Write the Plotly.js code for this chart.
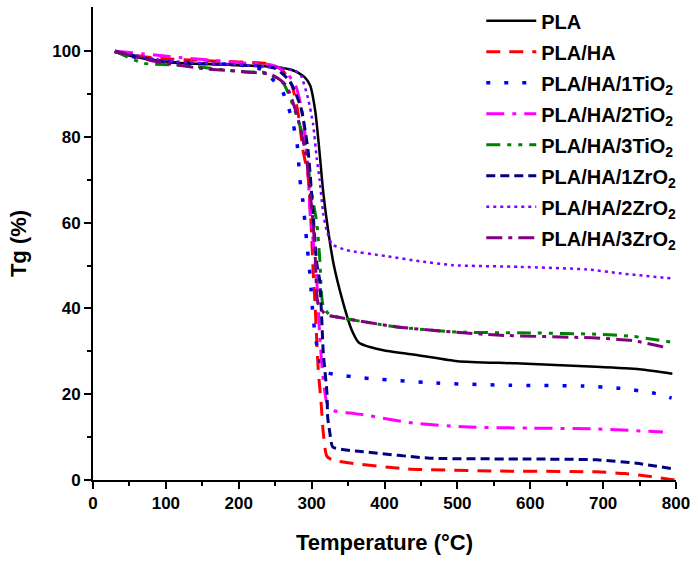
<!DOCTYPE html>
<html>
<head>
<meta charset="utf-8">
<script src="https://cdn.plot.ly/plotly-3.0.1.min.js"></script>
<style>
  html, body { margin: 0; padding: 0; background: #fff; }
  #chart { width: 698px; height: 565px; }
</style>
</head>
<body>
<div id="chart"></div>
<script>
// TGA mass-loss curves of PLA composites

const seriesNames = [
  'PLA', 'PLA/HA', 'PLA/HA/1TiO<sub>2</sub>', 'PLA/HA/2TiO<sub>2</sub>',
  'PLA/HA/3TiO<sub>2</sub>', 'PLA/HA/1ZrO<sub>2</sub>', 'PLA/HA/2ZrO<sub>2</sub>', 'PLA/HA/3ZrO<sub>2</sub>'
];

// Temperature (°C) and remaining mass (%) for each sample
const tPLA = [30, 60, 115, 190, 250, 275, 290, 298, 305, 310, 316, 322, 330, 343, 355, 365, 380, 400, 450, 500, 580, 690, 750, 795];
const wPLA = [99.8, 98.6, 97.3, 96.8, 96.3, 95.5, 94, 92, 86, 78, 67, 59, 50.5, 41.5, 35, 32, 31, 30.2, 29, 27.7, 27.2, 26.4, 25.8, 24.8];

const tHA = [30, 80, 150, 200, 243, 260, 273, 282, 288, 295, 300, 302, 305, 309, 313, 316, 321, 330, 350, 430, 550, 690, 730, 765, 798];
const wHA = [99.8, 98.5, 97.8, 97.5, 97, 95.5, 92, 85, 77, 71, 57, 49, 40, 26, 18, 11, 5.5, 4.6, 4, 2.6, 2.1, 1.9, 1.5, 0.8, 0];

const t1Ti = [30, 60, 100, 150, 200, 230, 243, 259, 268, 275, 280, 284, 288, 293, 298, 302, 305, 309, 315, 322, 346, 371, 471, 572, 673, 723, 771, 794];
const w1Ti = [100, 98.5, 97.6, 97.2, 96.8, 95.8, 94, 91, 87, 82.7, 78.5, 70, 65, 56, 47.3, 38, 33.8, 29.6, 26, 25, 24.3, 23.8, 22.6, 22.1, 21.9, 21.4, 20.2, 19.1];

const t2Ti = [30, 92, 119, 147, 202, 247, 265, 278, 288, 295, 298, 302, 307, 311, 316, 321, 328, 353, 371, 439, 508, 600, 691, 782];
const w2Ti = [100, 99, 98.5, 98.1, 97.3, 96.7, 95, 92, 85, 72, 62, 56, 46.6, 34, 23.3, 18, 16.3, 15.6, 15.2, 13.3, 12.4, 12.1, 11.9, 11.2];

const t3Ti = [30, 69, 124, 206, 238, 261, 280, 293, 298, 307, 311, 316, 325, 341, 417, 499, 600, 691, 740, 792];
const w3Ti = [100, 97.2, 96.7, 95.2, 94.9, 92.5, 84.7, 77, 69, 60, 52, 40.4, 38.5, 37.8, 35.7, 34.5, 34.3, 34, 33.5, 32.2];

const t1Zr = [30, 100, 200, 250, 270, 285, 295, 302, 307, 311, 314, 316, 321, 322, 325, 329, 348, 371, 462, 600, 691, 746, 796];
const w1Zr = [100, 97.5, 96.8, 96, 93, 87, 77, 62, 50.6, 46.6, 37, 29.6, 20.3, 14.7, 11, 7.7, 7, 6.6, 5.1, 4.9, 4.7, 3.9, 2.6];

const t2Zr = [30, 100, 200, 250, 275, 284, 295, 302, 307, 311, 316, 321, 328, 348, 403, 449, 494, 586, 678, 723, 794];
const w2Zr = [100, 97.8, 96.8, 96.3, 95.5, 94.8, 89, 83, 75, 70, 62, 58, 55, 53.6, 52.2, 51, 50.1, 49.7, 49.1, 48.2, 47];

const t3Zr = [30, 78, 147, 215, 245, 265, 280, 292, 298, 302, 305, 309, 318, 325, 335, 417, 554, 691, 740, 789];
const w3Zr = [100, 97.9, 96, 95.1, 94.5, 92, 85, 76, 67, 60, 52, 41, 38.8, 38.3, 38, 35.7, 33.8, 33.1, 32.5, 30.8];

const xs = [tPLA, tHA, t1Ti, t2Ti, t3Ti, t1Zr, t2Zr, t3Zr];
const ys = [wPLA, wHA, w1Ti, w2Ti, w3Ti, w1Zr, w2Zr, w3Zr];

const colors = ['#000000', '#FF0000', '#0000FF', '#FF00FF', '#008000', '#000080', '#8000FF', '#800080'];
const dashes = ['solid', '14px,9px', '4px,14px', '18px,8px,4px,8px', '14px,7px,4px,7px,4px,7px', '9px,5px', '3px,4px', '16px,6px,4px,6px'];
const widths = [2.5, 3, 3.5, 3, 3, 3, 2.5, 3];

const fontFam = '"Liberation Sans", Arial, sans-serif';

const traces = seriesNames.map((name, i) => ({
  type: 'scatter',
  mode: 'lines',
  name: name,
  legendgroup: 'g' + i,
  x: xs[i],
  y: ys[i],
  line: { color: colors[i], dash: dashes[i], width: widths[i], shape: 'spline', smoothing: 0.6 }
}));

const axisCommon = {
  showgrid: false,
  zeroline: false,
  showline: true,
  linecolor: '#000',
  linewidth: 2,
  ticks: 'outside',
  ticklen: 7,
  tickwidth: 2,
  tickcolor: '#000',
  mirror: false,
  tickfont: { family: fontFam, size: 17, color: '#000', weight: 'bold' }
};

const layout = {
  width: 698,
  height: 565,
  margin: { l: 93, r: 22, t: 7, b: 85, autoexpand: false },
  paper_bgcolor: '#fff',
  plot_bgcolor: '#fff',
  showlegend: true,
  legend: {
    x: 0.666, y: 1.012, xanchor: 'left', yanchor: 'top',
    font: { family: fontFam, size: 20, color: '#000', weight: 'bold' },
    bgcolor: 'rgba(0,0,0,0)',
    itemwidth: 50,
    tracegroupgap: 2
  },
  xaxis: Object.assign({}, axisCommon, {
    range: [0, 800],
    tickmode: 'linear', tick0: 0, dtick: 100,
    minor: { ticks: 'outside', ticklen: 4, tickwidth: 2, tickcolor: '#000', tickmode: 'array', tickvals: [50, 150, 250, 350, 450, 550, 650, 750] },
    title: { text: 'Temperature (°C)', font: { family: fontFam, size: 22, color: '#000', weight: 'bold' }, standoff: 22 }
  }),
  yaxis: Object.assign({}, axisCommon, {
    range: [0, 110.3],
    tickmode: 'linear', tick0: 0, dtick: 20,
    minor: { ticks: 'outside', ticklen: 4, tickwidth: 2, tickcolor: '#000', tickmode: 'array', tickvals: [10, 30, 50, 70, 90] },
    title: { text: 'Tg (%)', font: { family: fontFam, size: 22, color: '#000', weight: 'bold' }, standoff: 20 }
  })
};

Plotly.newPlot('chart', traces, layout, { staticPlot: true, displayModeBar: false });
</script>
</body>
</html>
